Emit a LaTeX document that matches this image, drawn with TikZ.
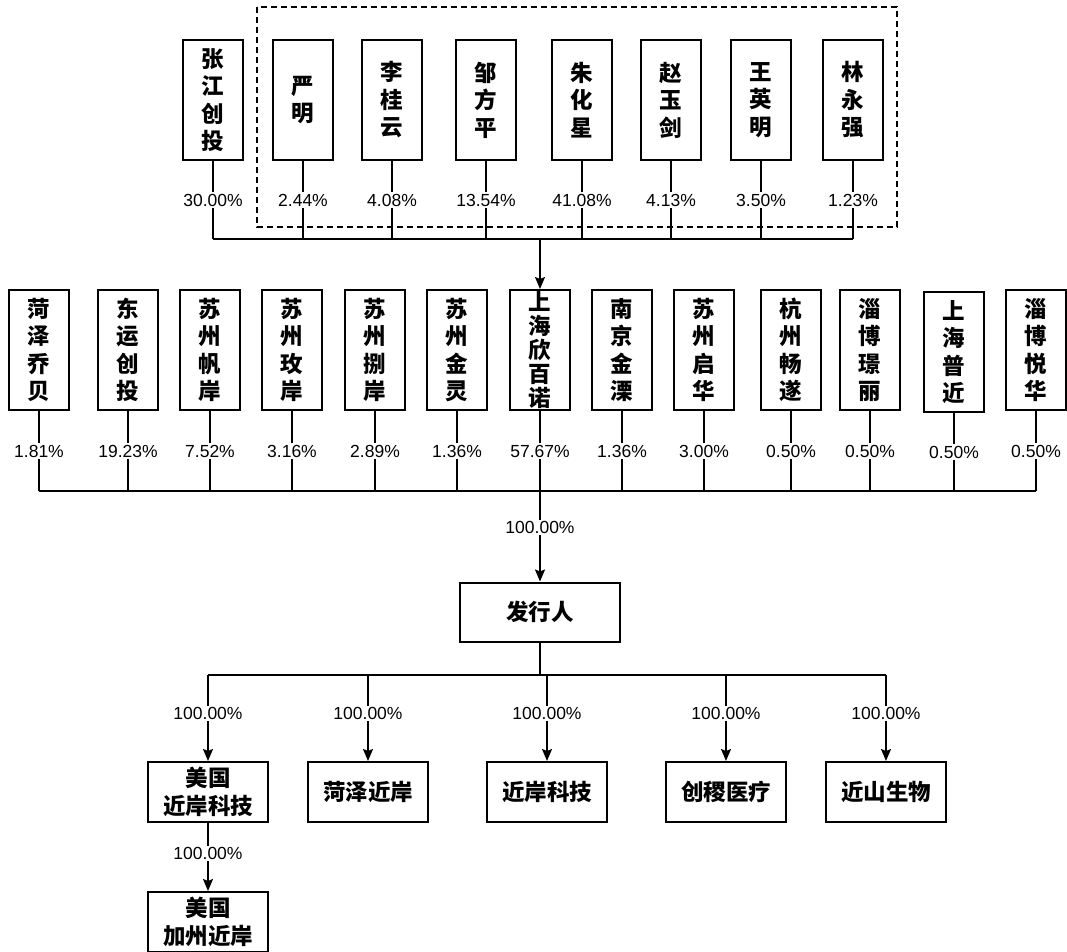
\documentclass[tikz,border=0pt]{standalone}
\usepackage{fontspec}
\setmainfont{Liberation Sans}
\newfontfamily\cjk{Noto Sans CJK SC}
\usetikzlibrary{arrows.meta}
\begin{document}
\begin{tikzpicture}[x=1pt,y=-1pt,
  vbox/.style={draw, line width=2pt, minimum width=60pt, minimum height=120pt, inner sep=0pt,
    align=center, font=\cjk\bfseries\fontsize{22.5}{27.5}\selectfont},
  hbox/.style={draw, line width=2pt, minimum width=120pt, minimum height=60pt, inner sep=0pt,
    align=center, font=\cjk\bfseries\fontsize{22.5}{27.5}\selectfont},
  pct/.style={fill=white, inner sep=1.5pt, font=\fontsize{17.5}{20}\selectfont},
  conn/.style={line width=1.7pt},
  arr/.style={conn, -{Stealth[length=12pt,width=10pt,inset=2pt]}}]
\useasboundingbox (0,0) rectangle (1067,951);
\fill[white] (0,0) rectangle (1067,951);

% top group dashed frame
\draw[line width=1.6pt, dash pattern=on 6pt off 4pt] (257,7) rectangle (897,227);

% top row
\node[vbox] (t1) at (213,100) {张\\江\\创\\投};
\node[vbox] (t2) at (303,100) {严\\明};
\node[vbox] (t3) at (392,100) {李\\桂\\云};
\node[vbox] (t4) at (486,100) {邹\\方\\平};
\node[vbox] (t5) at (582,100) {朱\\化\\星};
\node[vbox] (t6) at (671,100) {赵\\玉\\剑};
\node[vbox] (t7) at (761,100) {王\\英\\明};
\node[vbox] (t8) at (853,100) {林\\永\\强};

\foreach \n/\x in {1/213,2/303,3/392,4/486,5/582,6/671,7/761,8/853}
  \coordinate (tb\n) at (\x,239);
\coordinate (tbm) at (540,239);

\draw[conn] (t1.south) -- node[pct]{30.00\%} (tb1);
\draw[conn] (t2.south) -- node[pct]{2.44\%} (tb2);
\draw[conn] (t3.south) -- node[pct]{4.08\%} (tb3);
\draw[conn] (t4.south) -- node[pct]{13.54\%} (tb4);
\draw[conn] (t5.south) -- node[pct]{41.08\%} (tb5);
\draw[conn] (t6.south) -- node[pct]{4.13\%} (tb6);
\draw[conn] (t7.south) -- node[pct]{3.50\%} (tb7);
\draw[conn] (t8.south) -- node[pct]{1.23\%} (tb8);
\draw[conn] (tb1) -- (tb8);

% middle row
\node[vbox] (m1) at (39,350) {菏\\泽\\乔\\贝};
\node[vbox] (m2) at (128,350) {东\\运\\创\\投};
\node[vbox] (m3) at (210,350) {苏\\州\\帆\\岸};
\node[vbox] (m4) at (292,350) {苏\\州\\玫\\岸};
\node[vbox] (m5) at (375,350) {苏\\州\\捌\\岸};
\node[vbox] (m6) at (457,350) {苏\\州\\金\\灵};
\node[vbox, font=\cjk\bfseries\fontsize{22.5}{24}\selectfont] (m7) at (540,350) {上\\海\\欣\\百\\诺};
\node[vbox] (m8) at (622,350) {南\\京\\金\\溧};
\node[vbox] (m9) at (704,350) {苏\\州\\启\\华};
\node[vbox] (m10) at (791,350) {杭\\州\\畅\\遂};
\node[vbox] (m11) at (870,350) {淄\\博\\璟\\丽};
\node[vbox] (m12) at (954,352) {上\\海\\普\\近};
\node[vbox] (m13) at (1036,350) {淄\\博\\悦\\华};

\draw[arr] (tbm) -- (m7.north);

\foreach \n/\x in {1/39,2/128,3/210,4/292,5/375,6/457,7/540,8/622,9/704,10/791,11/870,12/954,13/1036}
  \coordinate (mb\n) at (\x,491);

\draw[conn] (m1.south) -- node[pct]{1.81\%} (mb1);
\draw[conn] (m2.south) -- node[pct]{19.23\%} (mb2);
\draw[conn] (m3.south) -- node[pct]{7.52\%} (mb3);
\draw[conn] (m4.south) -- node[pct]{3.16\%} (mb4);
\draw[conn] (m5.south) -- node[pct]{2.89\%} (mb5);
\draw[conn] (m6.south) -- node[pct]{1.36\%} (mb6);
\draw[conn] (m7.south) -- node[pct]{57.67\%} (mb7);
\draw[conn] (m8.south) -- node[pct]{1.36\%} (mb8);
\draw[conn] (m9.south) -- node[pct]{3.00\%} (mb9);
\draw[conn] (m10.south) -- node[pct]{0.50\%} (mb10);
\draw[conn] (m11.south) -- node[pct]{0.50\%} (mb11);
\draw[conn] (m12.south) -- node[pct]{0.50\%} (mb12);
\draw[conn] (m13.south) -- node[pct]{0.50\%} (mb13);
\draw[conn] (mb1) -- (mb13);

% issuer
\node[hbox, minimum width=160pt, minimum height=59pt] (fx) at (540,612) {发行人};
\draw[arr] (mb7) -- node[pct, pos=0.4]{100.00\%} (fx.north);

% subsidiaries
\node[hbox] (s1) at (208,792) {美国\\近岸科技};
\node[hbox] (s2) at (368,792) {菏泽近岸};
\node[hbox] (s3) at (547,792) {近岸科技};
\node[hbox] (s4) at (726,792) {创稷医疗};
\node[hbox] (s5) at (886,792) {近山生物};
\node[hbox] (s6) at (208,922) {美国\\加州近岸};

\coordinate (fb) at (540,675);
\foreach \n/\x in {1/208,2/368,3/547,4/726,5/886}
  \coordinate (sb\n) at (\x,675);
\draw[conn] (fx.south) -- (fb);
\draw[conn] (sb1) -- (sb5);
\foreach \n in {1,...,5}
  \draw[arr] (sb\n) -- node[pct, pos=0.45]{100.00\%} (s\n.north);
\draw[arr] (s1.south) -- node[pct, pos=0.45]{100.00\%} (s6.north);
\end{tikzpicture}
\end{document}
